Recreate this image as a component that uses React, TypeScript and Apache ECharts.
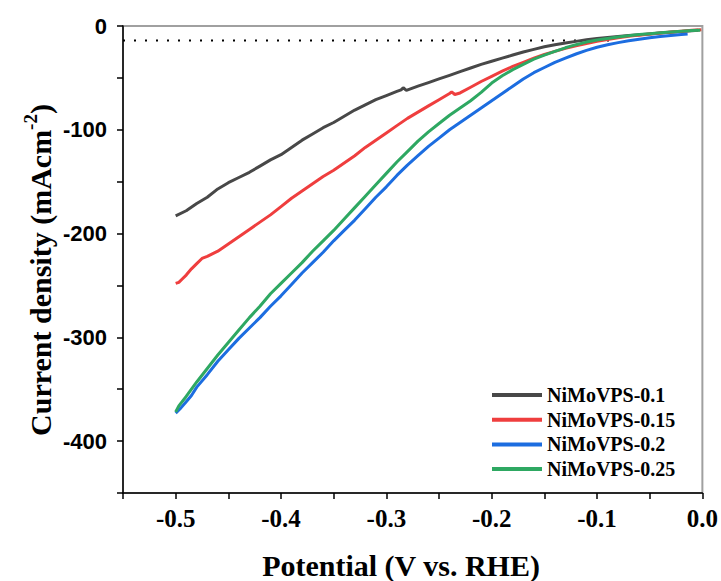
import React, { useEffect, useRef } from "react";
import * as echarts from "echarts";

const seriesNames = ["NiMoVPS-0.1", "NiMoVPS-0.15", "NiMoVPS-0.2", "NiMoVPS-0.25"];
const seriesColors = ["#484848", "#ef3e3e", "#1c6de0", "#2ea862"];

const potential01 = [-0.5, -0.49, -0.48, -0.47, -0.46, -0.45, -0.44, -0.43, -0.42, -0.41, -0.4, -0.39, -0.38, -0.37, -0.36, -0.35, -0.34, -0.33, -0.32, -0.31, -0.3, -0.29, -0.286, -0.284, -0.281, -0.27, -0.26, -0.25, -0.24, -0.23, -0.22, -0.21, -0.2, -0.19, -0.18, -0.17, -0.16, -0.15, -0.14, -0.13, -0.12, -0.11, -0.1, -0.09, -0.08, -0.07, -0.06, -0.05, -0.04, -0.03, -0.02, -0.01, -0.004];
const current01 = [-183, -178, -171, -165, -157, -151, -146, -141, -135, -129, -124, -117, -110, -104, -98, -93, -87, -81, -76, -71, -67, -63, -61.5, -59.5, -62, -58, -54.5, -51, -47.5, -44, -40.5, -37, -34, -31, -28, -25, -22.5, -20, -18, -16.3, -14.8, -13.3, -12, -11, -10, -9.2, -8.4, -7.6, -6.8, -6, -5.2, -4.5, -4];

const potential015 = [-0.5, -0.497, -0.494, -0.49, -0.485, -0.48, -0.475, -0.47, -0.46, -0.45, -0.44, -0.43, -0.42, -0.41, -0.4, -0.39, -0.38, -0.37, -0.36, -0.35, -0.34, -0.33, -0.32, -0.31, -0.3, -0.29, -0.28, -0.27, -0.26, -0.25, -0.24, -0.238, -0.235, -0.23, -0.22, -0.21, -0.2, -0.19, -0.18, -0.17, -0.16, -0.15, -0.14, -0.13, -0.12, -0.11, -0.1, -0.09, -0.08, -0.07, -0.06, -0.05, -0.04, -0.03, -0.02, -0.01, -0.001];
const current015 = [-248, -247, -244, -240, -234, -229, -224, -222, -217, -210, -203, -196, -189, -182, -174, -166, -159, -152, -145, -139, -132, -125, -117, -110, -103, -96, -89, -83, -77, -71, -65, -63.5, -66, -64.5, -59, -53.5, -48.5, -43.5, -39, -35, -31, -27.5, -24.5, -21.5, -19, -16.8, -14.8, -13, -11.4, -10, -8.8, -7.8, -6.8, -5.8, -5, -4.2, -3.5];

const potential02 = [-0.5, -0.495, -0.49, -0.485, -0.48, -0.47, -0.46, -0.45, -0.44, -0.43, -0.42, -0.41, -0.4, -0.39, -0.38, -0.37, -0.36, -0.35, -0.34, -0.33, -0.32, -0.31, -0.3, -0.29, -0.28, -0.27, -0.26, -0.25, -0.24, -0.23, -0.22, -0.21, -0.2, -0.19, -0.18, -0.17, -0.16, -0.15, -0.14, -0.13, -0.12, -0.11, -0.1, -0.09, -0.08, -0.07, -0.06, -0.05, -0.04, -0.03, -0.02, -0.014];
const current02 = [-373, -368, -362, -356, -348, -336, -323, -312, -301, -291, -281, -270, -260, -249, -238, -228, -218, -207, -197, -187, -176, -165, -155, -144, -134, -125, -116, -108, -100, -93, -86, -79, -72, -65, -58, -51, -45, -40, -35, -31, -27, -23.5, -20.5, -18, -16, -14.2, -12.7, -11.3, -10.1, -9.1, -8.2, -7.7];

const potential025 = [-0.5, -0.497, -0.49, -0.48, -0.47, -0.46, -0.45, -0.44, -0.43, -0.42, -0.41, -0.4, -0.39, -0.38, -0.37, -0.36, -0.35, -0.34, -0.33, -0.32, -0.31, -0.3, -0.29, -0.28, -0.27, -0.26, -0.25, -0.24, -0.23, -0.22, -0.21, -0.2, -0.19, -0.18, -0.17, -0.16, -0.15, -0.14, -0.13, -0.12, -0.11, -0.1, -0.09, -0.08, -0.07, -0.06, -0.05, -0.04, -0.03, -0.02, -0.01, -0.002];
const current025 = [-372, -366, -357, -343, -330, -317, -305, -293, -281, -270, -258, -248, -238, -228, -217, -207, -197, -186, -175, -164, -153, -142, -131, -121, -111, -102, -94, -86, -79, -72, -64, -55, -48, -42, -37, -32, -28, -24.5, -21, -18, -15.5, -13.5, -12, -10.5, -9.3, -8.3, -7.4, -6.6, -5.8, -5, -4.4, -4];

const refLineX = [-0.55, -0.082];
const refLineY = [-14, -14];

const xTitle = "Potential (V vs. RHE)";
const yTitleMain = "Current density (mAcm";
const yTitleSup = "-2";

const allX = [potential01, potential015, potential02, potential025];
const allY = [current01, current015, current02, current025];

export default function App() {
  const ref = useRef<HTMLDivElement>(null);
  useEffect(() => {
    if (!ref.current) return;
    const chart = echarts.init(ref.current, null, { renderer: "svg" });
    const series: any[] = seriesNames.map((name, i) => ({
      name,
      type: "line",
      data: allX[i].map((x, j) => [x, allY[i][j]]),
      symbol: "none",
      smooth: false,
      lineStyle: { color: seriesColors[i], width: 3 },
      itemStyle: { color: seriesColors[i] },
      z: 3 + i,
    }));
    series.push({
      name: "ref",
      type: "line",
      data: refLineX.map((x, j) => [x, refLineY[j]]),
      symbol: "none",
      silent: true,
      lineStyle: { color: "#000", width: 2, type: [2, 9] },
      z: 2,
    });
    chart.setOption({
      animation: false,
      backgroundColor: "#fff",
      grid: {
        left: 123,
        right: 15,
        top: 26,
        bottom: 88,
        show: true,
        borderColor: "#a0a0a0",
        borderWidth: 2,
      },
      xAxis: {
        type: "value",
        min: -0.55,
        max: 0,
        interval: 0.05,
        splitLine: { show: false },
        axisLine: { onZero: false, lineStyle: { color: "#000", width: 1.5 } },
        axisTick: { show: true, length: 6, lineStyle: { color: "#000", width: 1.5 } },
        axisLabel: {
          margin: 13,
          color: "#000",
          fontFamily: "Liberation Serif",
          fontWeight: "bold",
          fontSize: 25,
          formatter: (v: number) => (Math.abs(Math.round(v * 100) % 10) === 0 ? Math.abs(v) < 1e-9 ? "0.0" : v.toFixed(1) : ""),
        },
      },
      yAxis: {
        type: "value",
        min: -450,
        max: 0,
        interval: 50,
        splitLine: { show: false },
        axisLine: { onZero: false, lineStyle: { color: "#000", width: 1.5 } },
        axisTick: { show: true, length: 6, lineStyle: { color: "#000", width: 1.5 } },
        axisLabel: {
          margin: 16,
          color: "#000",
          fontFamily: "Liberation Sans",
          fontWeight: "bold",
          fontSize: 22,
          formatter: (v: number) => (Math.round(v) % 100 === 0 ? String(Math.round(v)) : ""),
        },
      },
      legend: {
        data: seriesNames.map((n) => ({ name: n, icon: "rect" })),
        orient: "vertical",
        left: 492,
        top: 385,
        padding: 0,
        itemWidth: 50,
        itemHeight: 4,
        itemGap: 4.7,
        textStyle: {
          color: "#000",
          fontFamily: "Liberation Serif",
          fontWeight: "bold",
          fontSize: 20,
          lineHeight: 20,
        },
      },
      graphic: [
        {
          type: "text",
          x: 401,
          y: 565,
          style: {
            text: xTitle,
            fill: "#000",
            font: "bold 30px 'Liberation Serif'",
            align: "center",
            verticalAlign: "middle",
          },
        },
        {
          type: "text",
          x: 38,
          y: 270,
          rotation: Math.PI / 2,
          style: {
            text: "{a|" + yTitleMain + "}{s|" + yTitleSup + "}{a|)}",
            fill: "#000",
            align: "center",
            verticalAlign: "middle",
            rich: {
              a: { fontFamily: "Liberation Serif", fontWeight: "bold", fontSize: 30, lineHeight: 34, verticalAlign: "bottom" },
              s: { fontFamily: "Liberation Serif", fontWeight: "bold", fontSize: 19, lineHeight: 34, verticalAlign: "top" },
            },
          },
        },
      ],
      series,
    });
    return () => chart.dispose();
  }, []);
  return <div ref={ref} style={{ width: 721, height: 581, position: "absolute", left: 0, top: 0 }} />;
}
